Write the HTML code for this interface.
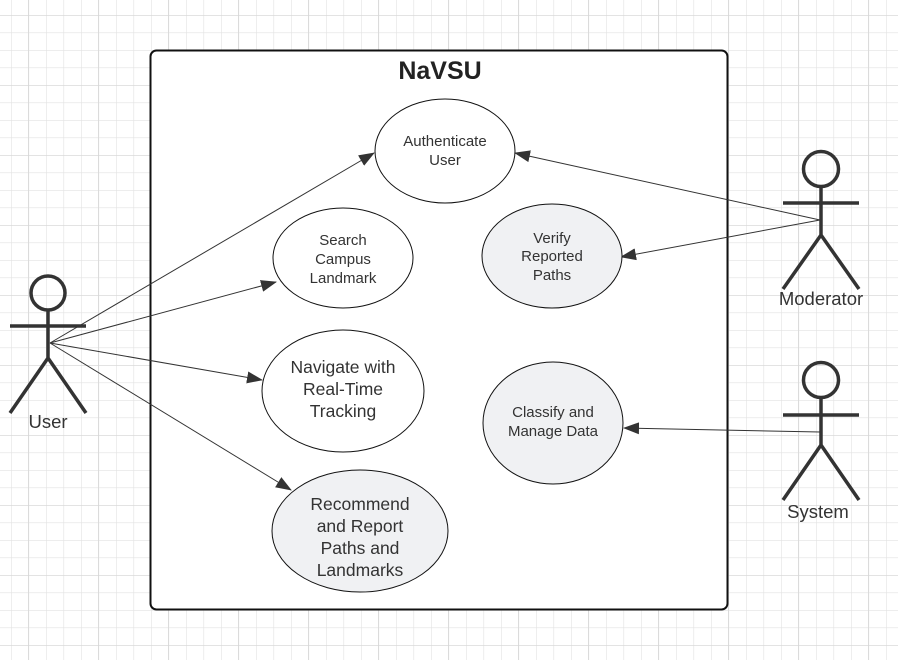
<!DOCTYPE html>
<html><head><style>
html,body{margin:0;padding:0;background:#fff}
svg{display:block}
text{font-family:"Liberation Sans",Arial,sans-serif;fill:#333;text-anchor:middle}
</style></head><body>
<svg width="898" height="660" viewBox="0 0 898 660" xmlns="http://www.w3.org/2000/svg">
<defs>
<pattern id="g" x="11" y="15" width="17.5" height="17.5" patternUnits="userSpaceOnUse">
<path d="M0 0H17.5M0 0V17.5" stroke="#e2e2e2" stroke-width="1.2" fill="none"/>
</pattern>
<pattern id="G" x="28" y="15" width="70" height="70" patternUnits="userSpaceOnUse">
<path d="M0 0H70M0 0V70" stroke="#d6d6d6" stroke-width="1.2" fill="none"/>
</pattern>
<marker id="a" markerWidth="16" markerHeight="12" refX="15" refY="6" orient="auto" markerUnits="userSpaceOnUse">
<path d="M0 0L16 6L0 12Z" fill="#333"/>
</marker>
</defs>
<rect width="898" height="660" fill="url(#g)"/>
<rect width="898" height="660" fill="url(#G)"/>
<rect x="150.5" y="50.5" width="577" height="559" rx="6" fill="#fff" stroke="#111" stroke-width="2"/>
<text x="440" y="79" style="font-size:25px;font-weight:bold;fill:#222">NaVSU</text>

<g stroke="#333" stroke-width="1" fill="none">
<line x1="50" y1="343" x2="374" y2="153" marker-end="url(#a)"/>
<line x1="50" y1="343" x2="276" y2="282" marker-end="url(#a)"/>
<line x1="50" y1="343" x2="262" y2="380" marker-end="url(#a)"/>
<line x1="50" y1="343" x2="291" y2="490" marker-end="url(#a)"/>
<line x1="820" y1="220" x2="515" y2="153" marker-end="url(#a)"/>
<line x1="820" y1="220" x2="621" y2="257" marker-end="url(#a)"/>
<line x1="820" y1="432" x2="624" y2="428" marker-end="url(#a)"/>
</g>

<g stroke="#111" stroke-width="1">
<ellipse cx="445" cy="151" rx="70" ry="52" fill="#fff"/>
<ellipse cx="343" cy="258" rx="70" ry="50" fill="#fff"/>
<ellipse cx="552" cy="256" rx="70" ry="52" fill="#f0f1f3"/>
<ellipse cx="343" cy="391" rx="81" ry="61" fill="#fff"/>
<ellipse cx="553" cy="423" rx="70" ry="61" fill="#f0f1f3"/>
<ellipse cx="360" cy="531" rx="88" ry="61" fill="#f0f1f3"/>
</g>

<g style="font-size:15px">
<text x="445" y="146">Authenticate</text><text x="445" y="165">User</text>
<text x="343" y="245">Search</text><text x="343" y="264">Campus</text><text x="343" y="283">Landmark</text>
<text x="552" y="243">Verify</text><text x="552" y="261">Reported</text><text x="552" y="280">Paths</text>
<text x="553" y="417">Classify and</text><text x="553" y="436">Manage Data</text>
</g>
<g style="font-size:17.5px">
<text x="343" y="373">Navigate with</text><text x="343" y="395">Real-Time</text><text x="343" y="417">Tracking</text>
<text x="360" y="510">Recommend</text><text x="360" y="532">and Report</text><text x="360" y="554">Paths and</text><text x="360" y="576">Landmarks</text>
</g>

<g stroke="#333" stroke-width="3.5" fill="none" stroke-linecap="butt">
<circle cx="48" cy="293" r="17"/>
<path d="M10 326H86M48 310V358M48 358L10 413M48 358L86 413"/>
<circle cx="821" cy="169" r="17.5"/>
<path d="M783 203H859M821 186V235M821 235L783 289M821 235L859 289"/>
<circle cx="821" cy="380" r="17.5"/>
<path d="M783 415H859M821 397V445M821 445L783 500M821 445L859 500"/>
</g>
<g style="font-size:18.5px">
<text x="48" y="428">User</text>
<text x="821" y="305">Moderator</text>
<text x="818" y="518">System</text>
</g>
</svg>
</body></html>
